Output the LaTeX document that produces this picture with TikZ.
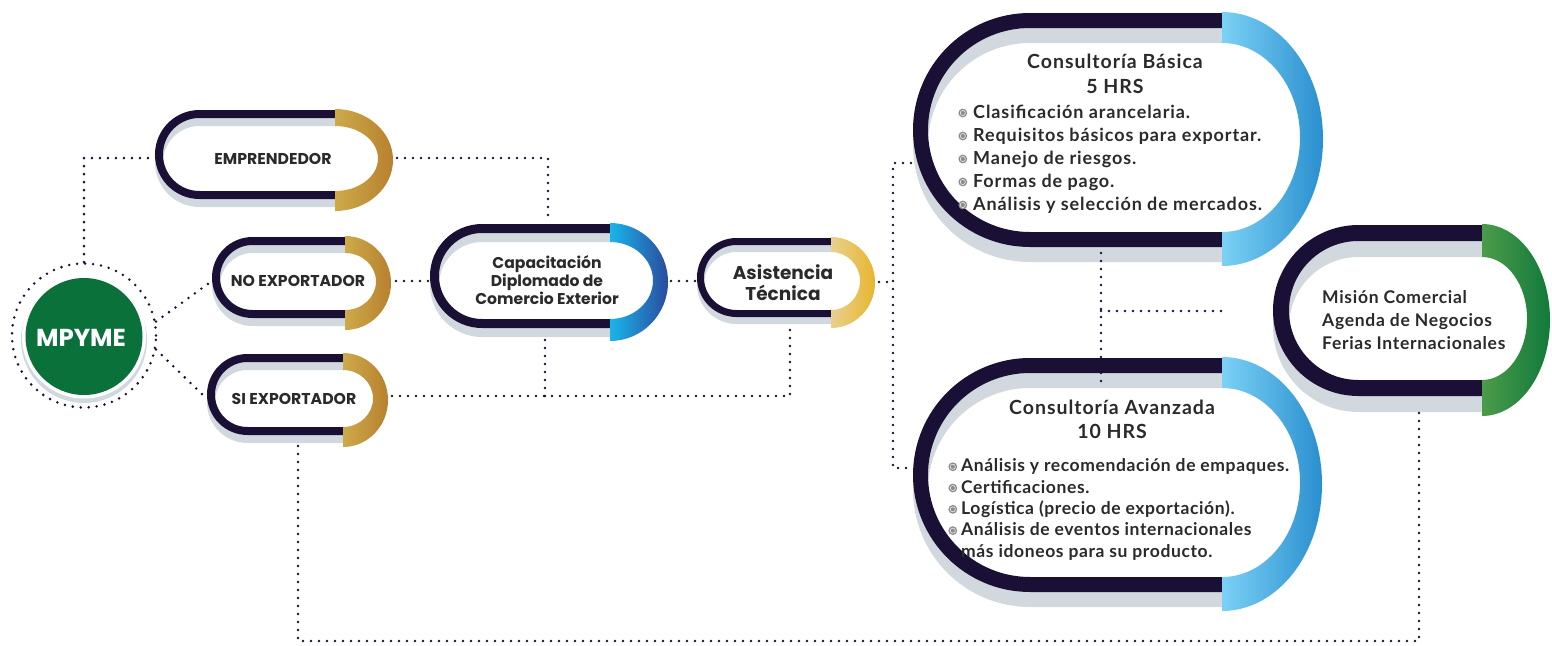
\documentclass[tikz,border=0pt]{standalone}
\usepackage{fontspec}
\setmainfont{Lato}
\newfontfamily\pop{Poppins}
\definecolor{navy}{HTML}{1A1036}
\definecolor{shadowc}{HTML}{D1D9DF}
\definecolor{txt}{HTML}{2A2A2A}
\definecolor{gold1}{HTML}{CDAA4A}
\definecolor{gold2}{HTML}{B8802E}
\definecolor{blue1}{HTML}{19B5EA}
\definecolor{blue2}{HTML}{2B4B9E}
\definecolor{yel1}{HTML}{E9D08E}
\definecolor{yel2}{HTML}{E7B52F}
\definecolor{lb1}{HTML}{7BD1F5}
\definecolor{lb2}{HTML}{2A8FCF}
\definecolor{gr1}{HTML}{4B9C49}
\definecolor{gr2}{HTML}{11793B}
\definecolor{mpgreen}{HTML}{0A713B}
\definecolor{bulgray}{HTML}{8C8C8C}
\newcommand\bulmark{\tikz[baseline={(0,-5.2pt)}]{\fill[bulgray] (0,0) circle[radius=4.4pt]; \fill[white!85!bulgray] (0,0) circle[radius=2.9pt]; \fill[bulgray] (0,0) circle[radius=2.1pt];}}
\newcommand\bul{\llap{\bulmark\hspace{6pt}}}
\newcommand\bulb{\llap{\bulmark\hspace{4pt}}}
% #1 xl #2 xc #3 yt #4 yb #5 w #6 ao #7 ai #8 cap style
\newcommand\pill[8]{%
  \pgfmathsetmacro\pr{(#4-#3-#5)/2}%
  \pgfmathsetmacro\ytc{#3+#5/2}%
  \pgfmathsetmacro\ybc{#4-#5/2}%
  \pgfmathsetmacro\xlc{#1+#5/2+\pr}%
  \pgfmathsetmacro\yoa{#3-1}%
  \pgfmathsetmacro\yob{#4+#5+4}%
  \pgfmathsetmacro\bo{(\yob-\yoa)/2}%
  \pgfmathsetmacro\yia{#3+2*#5}%
  \pgfmathsetmacro\yib{#4-#5}%
  \pgfmathsetmacro\bi{(\yib-\yia)/2}%
  \draw[shadowc, line width=#5pt] (#2,-\ytc-#5) -- (\xlc,-\ytc-#5) arc[start angle=90,end angle=270,radius=\pr] -- (#2,-\ybc-#5);
  \draw[navy, line width=#5pt] (#2,-\ytc) -- (\xlc,-\ytc) arc[start angle=90,end angle=270,radius=\pr] -- (#2,-\ybc);
  \shade[#8] (#2,-\yoa) arc[start angle=90,end angle=-90,x radius=#6,y radius=\bo] -- (#2,-\yib) arc[start angle=-90,end angle=90,x radius=#7,y radius=\bi] -- cycle;
}
\begin{document}
\begin{tikzpicture}[x=1pt,y=1pt,
  dots/.style={draw=navy, line width=2.8pt, line cap=round, dash pattern=on 0pt off 8pt},
  goldcap/.style={left color=gold1, right color=gold2},
  bluecap/.style={left color=blue1, right color=blue2},
  yelcap/.style={left color=yel1, right color=yel2},
  lbcap/.style={left color=lb1, right color=lb2},
  grcap/.style={left color=gr1, right color=gr2},
  tagtxt/.style={font=\pop\bfseries\fontsize{15.7}{17}\selectfont, text=txt, inner sep=0pt},
  captxt/.style={font=\pop\bfseries\fontsize{15.6}{18}\selectfont, text=txt, inner sep=0pt, align=center},
  asitxt/.style={font=\pop\bfseries\fontsize{18.5}{21}\selectfont, text=txt, inner sep=0pt, align=center},
  titletxt/.style={font=\addfontfeature{LetterSpace=5}\bfseries\fontsize{19.5}{24.5}\selectfont, text=txt, inner sep=0pt, align=center},
  listtxt/.style={font=\addfontfeature{LetterSpace=5}\bfseries\fontsize{18}{23}\selectfont, text=txt, inner sep=0pt, align=left},
  listtxtb/.style={font=\addfontfeature{LetterSpace=3.5}\bfseries\fontsize{17.5}{21.3}\selectfont, text=txt, inner sep=0pt, align=left},
  mistxt/.style={font=\addfontfeature{LetterSpace=4}\bfseries\fontsize{17.5}{23}\selectfont, text=txt, inner sep=0pt, align=left}
]
\useasboundingbox (0,0) rectangle (1552,-645);

% MPYME
\fill[shadowc] (84,-340) circle[radius=63];
\fill[white] (84,-336.5) circle[radius=62];
\fill[mpgreen] (84,-336.5) circle[radius=58.5];
\node[circle, minimum size=144pt, inner sep=0pt, dots] (mpyme) at (84,-335.5) {};
\node[font=\pop\bfseries\fontsize{24.5}{24.5}\selectfont, text=white, inner sep=0pt] (mpymet) at (81,-338) {MPYME};

% pills
\pill{155}{335}{110}{199}{8}{58}{43}{goldcap}
\pill{212}{345}{237}{318}{8}{46}{31}{goldcap}
\pill{207}{343}{354}{435}{8}{45}{30}{goldcap}
\pill{430}{610}{224}{328}{9}{58}{43}{bluecap}
\pill{697}{831}{238}{317}{7}{44}{29}{yelcap}
\pill{913}{1222}{13}{247}{15}{101}{78}{lbcap}
\pill{913}{1222}{358}{592}{15}{100}{78}{lbcap}
\pill{1273}{1482}{225}{396}{16}{68}{45}{grcap}

% texts
\node[tagtxt] (emp) at (273,-159) {EMPRENDEDOR};
\node[tagtxt] (noexp) at (298,-281) {NO EXPORTADOR};
\node[tagtxt] (siexp) at (294,-399) {SI EXPORTADOR};
\node[captxt] (capa) at (547,-280) {Capacitación\\Diplomado de\\Comercio Exterior};
\node[asitxt] (asis) at (783,-282.5) {Asistencia\\Técnica};
\node[titletxt] (basT) at (1115,-74) {Consultoría Básica\\5 HRS};
\node[listtxt, anchor=west] (basL) at (973,-159) {\bul Clasificación arancelaria.\\ \bul Requisitos básicos para exportar.\\ \bul Manejo de riesgos.\\ \bul Formas de pago.\\ \bul Análisis y selección de mercados.};
\node[titletxt] (avaT) at (1112,-419.5) {Consultoría Avanzada\\10 HRS};
\node[listtxtb, anchor=west] (avaL) at (961,-509.5) {\bulb Análisis y recomendación de empaques.\\ \bulb Certificaciones.\\ \bulb Logística (precio de exportación).\\ \bulb Análisis de eventos internacionales\\ más idoneos para su producto.};
\node[mistxt, anchor=west] (misT) at (1322,-320) {Misión Comercial\\Agenda de Negocios\\Ferias Internacionales};

% anchor coordinates
\coordinate (emp-W) at (155,-158);
\coordinate (emp-E) at (397,-158);
\coordinate (cap-N) at (548,-222);
\coordinate (no-W) at (212,-281);
\coordinate (no-E) at (396,-281);
\coordinate (cap-W) at (428,-281);
\coordinate (cap-E) at (671,-281);
\coordinate (asi-W) at (695,-281);
\coordinate (si-W) at (206,-398);
\coordinate (si-E) at (392,-396);
\coordinate (cap-S) at (545,-340);
\coordinate (j1) at (545,-396);
\coordinate (asi-S) at (790,-324);
\coordinate (asi-E) at (879,-282);
\coordinate (jv) at (893,-282);
\coordinate (bas-W) at (911,-163);
\coordinate (ava-W) at (911,-468);
\coordinate (bas-S) at (1101,-253);
\coordinate (ava-N) at (1101,-383);
\coordinate (h1) at (1101,-311);
\coordinate (h2) at (1222,-311);
\coordinate (si-S) at (298,-446);
\coordinate (bl) at (298,-641);
\coordinate (mis-S) at (1419,-407);

% connectors
\draw[dots] (mpyme.north) |- (emp-W);
\draw[dots] (emp-E) -| (cap-N);
\draw[dots] (mpyme.11) -- (no-W);
\draw[dots] (mpyme.-11) -- (si-W);
\draw[dots] (no-E) -- (cap-W);
\draw[dots] (cap-E) -- (asi-W);
\draw[dots] (si-E) -| (asi-S);
\draw[dots] (cap-S) -- (j1);
\draw[dots] (asi-E) -- (jv);
\draw[dots] (bas-W) -| (jv) |- (ava-W);
\draw[dots] (bas-S) -- (ava-N);
\draw[dots] (h1) -- (h2);
\draw[dots] (si-S) -- (bl) -| (mis-S);
\end{tikzpicture}
\end{document}
